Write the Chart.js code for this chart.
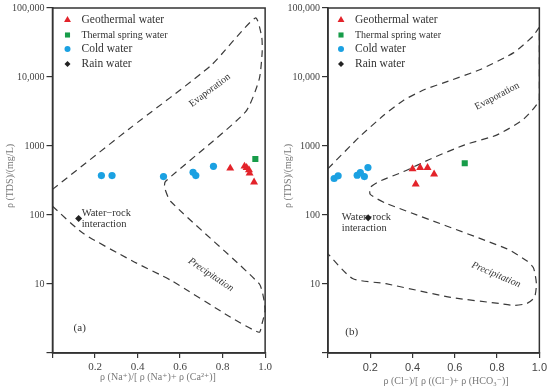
<!DOCTYPE html>
<html>
<head>
<meta charset="utf-8">
<script src="https://cdn.jsdelivr.net/npm/chart.js@4.4.0/dist/chart.umd.min.js"></script>
<style>
  body { margin: 0; background: #fff; }
  canvas { position: absolute; top: 0; }
</style>
</head>
<body>
<canvas id="chartA" width="275" height="388" style="left:0"></canvas>
<canvas id="chartB" width="275" height="388" style="left:275px"></canvas>
<script>
// tick values and labels
const xTicks = [0, 0.2, 0.4, 0.6, 0.8, 1.0];
const xTickLabels = ['', '0.2', '0.4', '0.6', '0.8', '1.0'];
const yTicks = [1, 10, 100, 1000, 10000, 100000];
const yTickLabels = ['', '10', '100', '1000', '10,000', '100,000'];

// (a) Na/(Na+Ca) vs TDS
const geoNa = [0.836, 0.903, 0.913, 0.924, 0.927, 0.948];
const geoTdsA = [475, 508, 486, 451, 403, 299];
const springNa = [0.954];
const springTdsA = [648];
const coldNa = [0.23, 0.28, 0.522, 0.661, 0.674, 0.757];
const coldTdsA = [373, 373, 361, 416, 373, 508];
const rainNa = [0.123];
const rainTdsA = [89];
// Gibbs boundary (a)
const curveNaX = [0, 0.36, 0.745, 0.954, 0.984, 0.986, 0.972, 0.907, 0.531, 0.527, 0.555, 0.972, 0.995, 1.0, 0.986, 0.972, 0.838, 0.559, 0.374, 0.142, 0];
const curveNaY = [235, 1767, 14680, 71800, 38000, 22560, 9240, 3100, 306, 251, 158, 10.1, 5.8, 4.15, 2.7, 2.0, 3.3, 11.2, 21.7, 54.8, 134];

// (b) Cl/(Cl+HCO3) vs TDS
const geoCl = [0.4, 0.436, 0.471, 0.502, 0.415];
const geoTdsB = [466, 486, 486, 390, 280];
const springCl = [0.647];
const springTdsB = [561];
const coldCl = [0.029, 0.048, 0.138, 0.153, 0.172, 0.189];
const coldTdsB = [338, 370, 377, 412, 361, 486];
const rainCl = [0.19];
const rainTdsB = [91];
// Gibbs boundary (b)
const curveClX = [0, 0.149, 0.265, 0.358, 0.46, 0.553, 0.721, 0.879, 0.972, 1.0, 1.0, 0.926, 0.8, 0.647, 0.488, 0.358, 0.242, 0.2, 0.2, 0.274, 0.847, 0.94, 0.972, 0.986, 0.977, 0.94, 0.879, 0.814, 0.581, 0.274, 0.116, 0];
const curveClY = [470, 1356, 2806, 4612, 6637, 8360, 12860, 22560, 39600, 51600, 4765, 2460, 1449, 1040, 655, 426, 306, 251, 199, 148, 32.3, 21.7, 17.2, 10.1, 6.4, 5.2, 4.9, 5.2, 6.4, 10.1, 12, 27.3];

const serif = '"Liberation Serif", "DejaVu Serif", serif';

function pts(xs, ys) {
    return xs.map((v, i) => ({ x: v, y: ys[i] }));
}

function drawMarker(ctx, style, x, y, r, color) {
    ctx.fillStyle = color;
    ctx.beginPath();
    if (style === 'triangle') {
        ctx.moveTo(x, y - r);
        ctx.lineTo(x + r * 0.866, y + r * 0.5);
        ctx.lineTo(x - r * 0.866, y + r * 0.5);
    } else if (style === 'rect') {
        const s = r * Math.SQRT1_2;
        ctx.rect(x - s, y - s, 2 * s, 2 * s);
    } else if (style === 'rectRot') {
        ctx.moveTo(x, y - r);
        ctx.lineTo(x + r, y);
        ctx.lineTo(x, y + r);
        ctx.lineTo(x - r, y);
    } else {
        ctx.arc(x, y, r, 0, Math.PI * 2);
    }
    ctx.closePath();
    ctx.fill();
}

// frame, notes, legend and axis titles
const panelPlugin = {
    id: 'panel',
    beforeDatasetsDraw(chart, args, o) {
        const { ctx, scales: { x, y } } = chart;
        ctx.save();
        ctx.fillStyle = '#333';
        o.notes.forEach(n => {
            ctx.save();
            ctx.translate(x.getPixelForValue(n.x), y.getPixelForValue(n.y));
            ctx.rotate((n.angle || 0) * Math.PI / 180);
            ctx.font = n.font;
            ctx.textAlign = n.align || 'center';
            ctx.textBaseline = 'middle';
            n.text.split('\n').forEach((t, i) => ctx.fillText(t, 0, i * 11));
            ctx.restore();
        });
        ctx.restore();
    },
    afterDraw(chart, args, o) {
        const { ctx, chartArea: a } = chart;
        ctx.save();
        ctx.strokeStyle = '#333';
        ctx.lineWidth = 1.5;
        ctx.strokeRect(a.left, a.top, a.right - a.left, a.bottom - a.top);

        // legend
        const rows = [12, 27, 41, 56];
        chart.data.datasets.slice(0, 4).forEach((ds, i) => {
            const yy = a.top + rows[i];
            drawMarker(ctx, ds.pointStyle, a.left + o.legendX, yy, ds.legendRadius, ds.backgroundColor);
            ctx.fillStyle = '#333';
            ctx.font = ds.legendFont;
            ctx.textAlign = 'left';
            ctx.textBaseline = 'middle';
            ctx.fillText(ds.label, a.left + o.legendX + 14, yy);
        });

        // axis titles
        ctx.fillStyle = '#777';
        ctx.font = '10px ' + serif;
        ctx.textAlign = 'center';
        ctx.textBaseline = 'middle';
        ctx.fillText(o.xTitle, o.xTitleX, o.xTitleY);
        ctx.translate(o.yTitleX, 176);
        ctx.rotate(-Math.PI / 2);
        ctx.fillText(o.yTitle, 0, 0);
        ctx.restore();
    }
};

function makePanel(id, d, o) {
    return new Chart(document.getElementById(id), {
        type: 'scatter',
        data: {
            datasets: [
                { label: 'Geothermal water', data: pts(d.geo[0], d.geo[1]), pointStyle: 'triangle', pointRadius: 4.6,
                  backgroundColor: '#e3232a', borderWidth: 0, legendRadius: 4, legendFont: '11.5px ' + serif },
                { label: 'Thermal spring water', data: pts(d.spring[0], d.spring[1]), pointStyle: 'rect', pointRadius: 4.3,
                  backgroundColor: '#179c49', borderWidth: 0, legendRadius: 3.6, legendFont: '10px ' + serif },
                { label: 'Cold water', data: pts(d.cold[0], d.cold[1]), pointStyle: 'circle', pointRadius: 3.6,
                  backgroundColor: '#1ba1e2', borderWidth: 0, legendRadius: 3, legendFont: '11.5px ' + serif },
                { label: 'Rain water', data: pts(d.rain[0], d.rain[1]), pointStyle: 'rectRot', pointRadius: 3.5,
                  backgroundColor: '#222', borderWidth: 0, legendRadius: 3, legendFont: '11.5px ' + serif },
                { label: 'boundary', data: pts(d.curve[0], d.curve[1]), showLine: true, pointRadius: 0,
                  borderColor: '#3a3a3a', borderWidth: 1.2, borderDash: [7, 5], tension: 0.2, clip: false }
            ]
        },
        options: {
            responsive: false,
            animation: false,
            layout: { padding: { top: 5, right: 7, left: 0, bottom: 0 } },
            plugins: {
                legend: { display: false },
                tooltip: { enabled: false },
                panel: o
            },
            scales: {
                x: {
                    type: 'linear', min: 0, max: 1,
                    afterFit: s => { s.height = 35; },
                    afterBuildTicks: s => { s.ticks = xTicks.map(v => ({ value: v })); },
                    ticks: { callback: (v, i) => xTickLabels[i], font: o.xTickFont, color: '#444',
                             padding: 3, maxRotation: 0, autoSkip: false },
                    grid: { drawOnChartArea: false, tickLength: 5, tickColor: '#333', lineWidth: 1.2 },
                    border: { color: '#333', width: 1.5 }
                },
                y: {
                    type: 'logarithmic', min: 1, max: 100000,
                    afterFit: s => { s.width = o.yWidth; },
                    afterBuildTicks: s => { s.ticks = yTicks.map(v => ({ value: v })); },
                    ticks: { callback: (v, i) => yTickLabels[i], font: { family: serif, size: 10 }, color: '#444',
                             padding: 2, autoSkip: false },
                    grid: { drawOnChartArea: false, tickLength: 6, tickColor: '#333', lineWidth: 1.2 },
                    border: { color: '#333', width: 1.5 }
                }
            }
        },
        plugins: [panelPlugin]
    });
}

makePanel('chartA', {
    geo: [geoNa, geoTdsA], spring: [springNa, springTdsA], cold: [coldNa, coldTdsA],
    rain: [rainNa, rainTdsA], curve: [curveNaX, curveNaY]
}, {
    yWidth: 52.5, legendX: 15,
    xTickFont: { family: serif, size: 11 },
    xTitle: 'ρ (Na⁺)/[ ρ (Na⁺)+ ρ (Ca²⁺)]', xTitleX: 158, xTitleY: 377,
    yTitle: 'ρ (TDS)/(mg/L)', yTitleX: 10,
    notes: [
        { text: 'Evaporation', x: 0.74, y: 6400, angle: -37, font: '10px ' + serif },
        { text: 'Precipitation', x: 0.745, y: 13.6, angle: 34, font: 'italic 10px ' + serif },
        { text: 'Water\u2212rock\ninteraction', x: 0.137, y: 106, align: 'left', font: '10.5px ' + serif },
        { text: '(a)', x: 0.128, y: 2.29, font: '11px ' + serif }
    ]
});

makePanel('chartB', {
    geo: [geoCl, geoTdsB], spring: [springCl, springTdsB], cold: [coldCl, coldTdsB],
    rain: [rainCl, rainTdsB], curve: [curveClX, curveClY]
}, {
    yWidth: 53, legendX: 13,
    xTickFont: { family: '"Liberation Sans", Arial, sans-serif', size: 11 },
    xTitle: 'ρ (Cl⁻)/[ ρ ((Cl⁻)+ ρ (HCO₃⁻)]', xTitleX: 171, xTitleY: 381,
    yTitle: 'ρ (TDS)/(mg/L)', yTitleX: 13,
    notes: [
        { text: 'Evaporation', x: 0.8, y: 5270, angle: -28, font: '10px ' + serif },
        { text: 'Precipitation', x: 0.795, y: 13.6, angle: 23, font: 'italic 10px ' + serif },
        { text: 'Water\u2212rock\ninteraction', x: 0.065, y: 93, align: 'left', font: '10.5px ' + serif },
        { text: '(b)', x: 0.112, y: 2.0, font: '11px ' + serif }
    ]
});
</script>
</body>
</html>
